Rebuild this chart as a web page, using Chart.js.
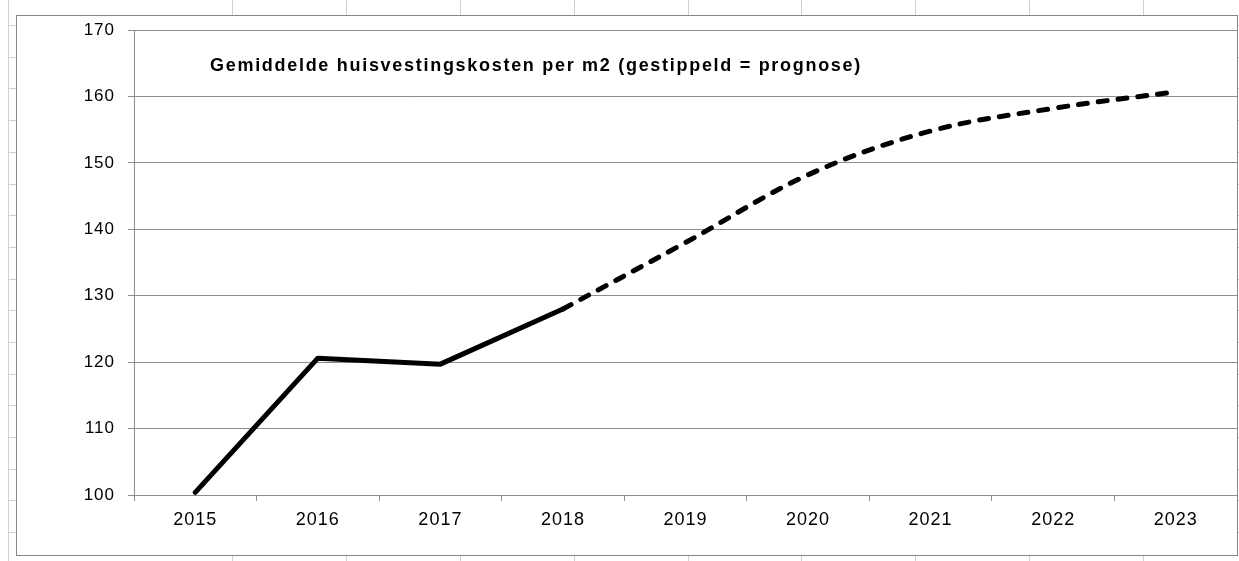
<!DOCTYPE html>
<html>
<head>
<meta charset="utf-8">
<script src="https://cdn.jsdelivr.net/npm/chart.js@4"></script>
<style>
    html, body { margin: 0; padding: 0; background: #fff; }
    body { width: 1239px; height: 561px; position: relative; overflow: hidden; }
    #sheet { position: absolute; left: 0; top: 0; }
    #chartBox { position: absolute; left: 16px; top: 15px; width: 1220px; height: 539px; border: 1px solid #868686; background: #fff; }
    #chart { display: block; }
</style>
</head>
<body>
<canvas id="sheet" width="1239" height="561"></canvas>
<div id="chartBox"><canvas id="chart" width="1220" height="539"></canvas></div>
<script>
const years = ['2015', '2016', '2017', '2018', '2019', '2020', '2021', '2022', '2023'];
// realised costs (solid) and forecast (dashed), sharing the 2018 point
const actualCosts = [100.4, 120.6, 119.7, 128.0, null, null, null, null, null];
const forecastCosts = [null, null, null, 128.0, 138.0, 148.2, 154.8, 158.2, 160.7];
const yTicks = [100, 110, 120, 130, 140, 150, 160, 170];
const chartTitle = 'Gemiddelde huisvestingskosten per m2 (gestippeld = prognose)';

const FONT = '"Liberation Sans", Arial, sans-serif';
const AXIS_GREY = '#8e8e8e';

// spreadsheet cells peeking out around the embedded chart
function drawSheet() {
    const c = document.getElementById('sheet').getContext('2d');
    c.strokeStyle = '#d0d0d0';
    c.lineWidth = 1;
    c.beginPath();
    c.moveTo(8.5, 0);
    c.lineTo(8.5, 561);
    for (let x = 232; x < 1239; x += 113.9) {
        const px = Math.round(x) + 0.5;
        c.moveTo(px, 0);
        c.lineTo(px, 561);
    }
    for (let y = 25; y < 561; y += 31.7) {
        const py = Math.round(y) + 0.5;
        c.moveTo(8, py);
        c.lineTo(1239, py);
    }
    c.stroke();
}

const innerTitle = {
    id: 'innerTitle',
    beforeDraw(chart) {
        chart.ctx.letterSpacing = '1px';
    },
    afterDraw(chart) {
        const ctx = chart.ctx;
        const area = chart.chartArea;
        ctx.save();
        ctx.font = 'bold 18px ' + FONT;
        ctx.fillStyle = '#000';
        ctx.textAlign = 'left';
        ctx.textBaseline = 'alphabetic';
        ctx.letterSpacing = '0px';
        const natural = ctx.measureText(chartTitle).width;
        ctx.letterSpacing = Math.max(0, (652 - natural) / chartTitle.length) + 'px';
        ctx.fillText(chartTitle, area.left + 76, area.top + 41);
        ctx.restore();
    }
};

drawSheet();

new Chart(document.getElementById('chart'), {
    type: 'line',
    data: {
        labels: years,
        datasets: [{
            data: actualCosts,
            borderColor: '#000',
            borderWidth: 5,
            borderCapStyle: 'round',
            borderJoinStyle: 'round',
            pointRadius: 0,
            tension: 0
        }, {
            data: forecastCosts,
            borderColor: '#000',
            borderWidth: 5,
            borderDash: [9, 11],
            borderCapStyle: 'round',
            borderJoinStyle: 'round',
            pointRadius: 0,
            tension: 0.35
        }]
    },
    options: {
        responsive: false,
        devicePixelRatio: 1,
        animation: false,
        layout: { padding: { top: 14, left: 0, right: 0, bottom: 0 } },
        plugins: {
            legend: { display: false },
            tooltip: { enabled: false },
            title: { display: false }
        },
        scales: {
            x: {
                offset: true,
                grid: { offset: true, drawOnChartArea: false, drawTicks: true, tickLength: 6, color: AXIS_GREY },
                border: { display: true, color: AXIS_GREY, width: 1 },
                ticks: { color: '#000', font: { family: FONT, size: 18 }, padding: 8, maxRotation: 0, autoSkip: false },
                afterFit(scale) { scale.height = 60; }
            },
            y: {
                min: yTicks[0],
                max: yTicks[yTicks.length - 1],
                grid: { color: AXIS_GREY, tickLength: 6 },
                border: { display: true, color: AXIS_GREY, width: 1 },
                ticks: { stepSize: yTicks[1] - yTicks[0], color: '#000', font: { family: FONT, size: 17 }, padding: 13 },
                afterFit(scale) {
                    scale.width = 117;
                    scale.paddingTop = 0;
                    scale.paddingBottom = 0;
                }
            }
        }
    },
    plugins: [innerTitle]
});
</script>
</body>
</html>
